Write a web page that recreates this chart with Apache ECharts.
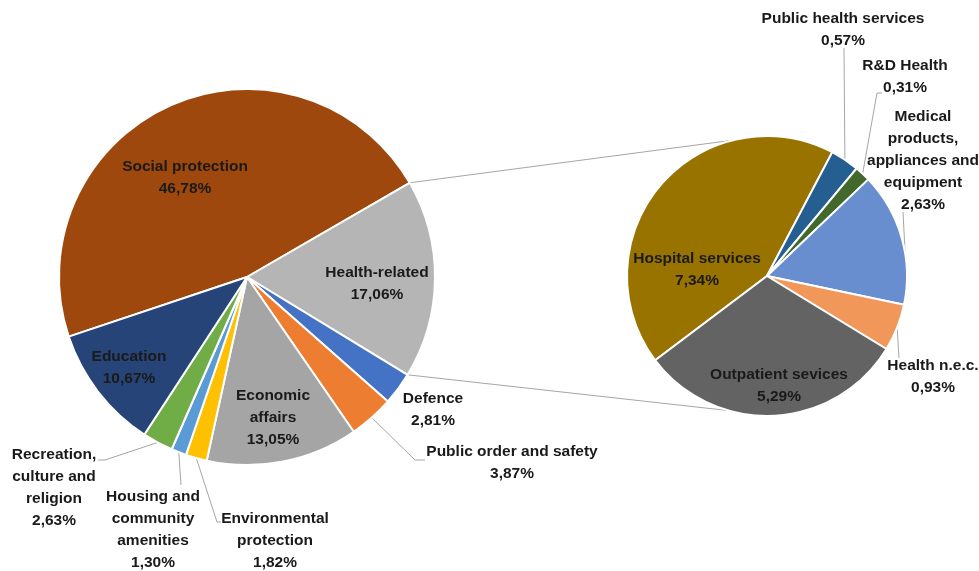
<!DOCTYPE html>
<html>
<head>
	<meta charset="UTF-8">
	<title>Government expenditure by function</title>
	<script src="https://cdn.jsdelivr.net/npm/echarts@6/dist/echarts.min.js"></script>
	<style>
		html, body { margin: 0; padding: 0; background: #fff; }
		#chart { width: 979px; height: 571px; }
	</style>
</head>
<body>
	<div id="chart"></div>
<script type="text/javascript">
	// main pie (share of total, %)
	var mainNames = ['Social protection', 'Health-related', 'Defence', 'Public order and safety',
		'Economic\naffairs', 'Environmental\nprotection', 'Housing and\ncommunity\namenities',
		'Recreation,\nculture and\nreligion', 'Education'];
	var mainValues = [46.78, 17.06, 2.81, 3.87, 13.05, 1.82, 1.30, 2.63, 10.67];
	var mainColors = ['#9E480E', '#B5B5B5', '#4472C4', '#ED7D31', '#A5A5A5', '#FFC000', '#5B9BD5', '#70AD47', '#264478'];

	// breakdown of the health-related slice (share of total, %)
	var healthNames = ['Hospital services', 'Public health services', 'R&D Health',
		'Medical\nproducts,\nappliances and\nequipment', 'Health n.e.c.', 'Outpatient sevices'];
	var healthValues = [7.34, 0.57, 0.31, 2.63, 0.93, 5.29];
	var healthColors = ['#997300', '#255E91', '#43682B', '#698ED0', '#F1975A', '#636363'];

	// where the labels sit (px)
	var mainLabelPos = [[185, 178], [377, 284], [433, 410], [512, 463], [273, 418], [275, 541], [153, 530], [54, 488], [129, 368]];
	var healthLabelPos = [[697, 270], [843, 30], [905, 77], [923, 161], [933, 377], [779, 386]];
	// leader line bends after the slice anchor (px), null = no line
	var mainLeaders = [null, null, null, [[415, 460], [425, 460]], null, [[217, 522], [221, 522]], [[181, 485], [181, 485]], [[105, 460], [98, 460]], null];
	var healthLeaders = [null, [[844, 48], [844, 48]], [[877, 93], [882, 93]], [[903, 212], [903, 212]], [[899, 358], [899, 358]], null];
	// where on the slice the leader starts (0 = slice start, 1 = slice end)
	var healthAnchorAt = [0.5, 0.5, 0.5, 0.85, 0.5, 0.5];

	var mainCenter = [247, 277], mainR = 188, mainStart = 198.5;
	var subCenter = [767, 276], subR = 140, subStart = 217;

	var font = '"Liberation Sans", Arial, sans-serif';

	function pct(v) {
		return v.toFixed(2).replace('.', ',') + '%';
	}

	function onCircle(c, r, deg) {
		var a = deg * Math.PI / 180;
		return [c[0] + r * Math.cos(a), c[1] - r * Math.sin(a)];
	}

	// angle on the pie for a point at fraction f inside slice i
	function sliceAngle(values, start, i, f) {
		var total = values.reduce(function (a, b) { return a + b; }, 0);
		var before = 0;
		for (var k = 0; k < i; k++) before += values[k];
		return start - 360 * (before + f * values[i]) / total;
	}

	function buildData(names, values, colors, leaders) {
		return names.map(function (n, i) {
			return {
				name: n,
				value: values[i],
				itemStyle: { color: colors[i] },
				labelLine: { show: !!leaders[i] }
			};
		});
	}

	function makeSeries(names, values, colors, center, r, start, pos, leaders, anchorAt) {
		return {
			type: 'pie',
			center: center,
			radius: [0, r],
			startAngle: start,
			clockwise: true,
			animation: false,
			avoidLabelOverlap: false,
			itemStyle: { borderColor: '#fff', borderWidth: 2 },
			label: {
				show: true,
				position: 'outside',
				formatter: function (p) { return p.name + '\n' + pct(p.value); },
				fontFamily: font,
				fontWeight: 'bold',
				fontSize: 15.5,
				lineHeight: 22,
				color: '#1a1a1a',
				align: 'center'
			},
			labelLine: {
				length: 10,
				length2: 10,
				lineStyle: { color: '#A6A6A6', width: 1 }
			},
			labelLayout: function (p) {
				var i = p.dataIndex;
				var q = pos[i];
				var res = { x: q[0], y: q[1], align: 'center', verticalAlign: 'middle' };
				if (leaders[i]) {
					var f = anchorAt ? anchorAt[i] : 0.5;
					var anchor = onCircle(center, r, sliceAngle(values, start, i, f));
					res.labelLinePoints = [anchor, leaders[i][0], leaders[i][1]];
				}
				return res;
			},
			emphasis: { disabled: true },
			data: buildData(names, values, colors, leaders)
		};
	}

	// connector lines from the health slice edges to the second pie
	var up1 = onCircle(mainCenter, mainR, sliceAngle(mainValues, mainStart, 1, 0));
	var lo1 = onCircle(mainCenter, mainR, sliceAngle(mainValues, mainStart, 1, 1));
	var up2 = onCircle(subCenter, subR, 104);
	var lo2 = onCircle(subCenter, subR, -106);

	var myChart = echarts.init(document.getElementById('chart'), null, { renderer: 'canvas' });

	var option = {
		backgroundColor: '#fff',
		animation: false,
		tooltip: { show: false },
		graphic: [
			{ type: 'polyline', z: 0, shape: { points: [up1, up2] }, style: { stroke: '#A6A6A6', lineWidth: 1, fill: null } },
			{ type: 'polyline', z: 0, shape: { points: [lo1, lo2] }, style: { stroke: '#A6A6A6', lineWidth: 1, fill: null } }
		],
		series: [
			makeSeries(mainNames, mainValues, mainColors, mainCenter, mainR, mainStart, mainLabelPos, mainLeaders, null),
			makeSeries(healthNames, healthValues, healthColors, subCenter, subR, subStart, healthLabelPos, healthLeaders, healthAnchorAt)
		]
	};

	myChart.setOption(option);
</script>
</body>
</html>
